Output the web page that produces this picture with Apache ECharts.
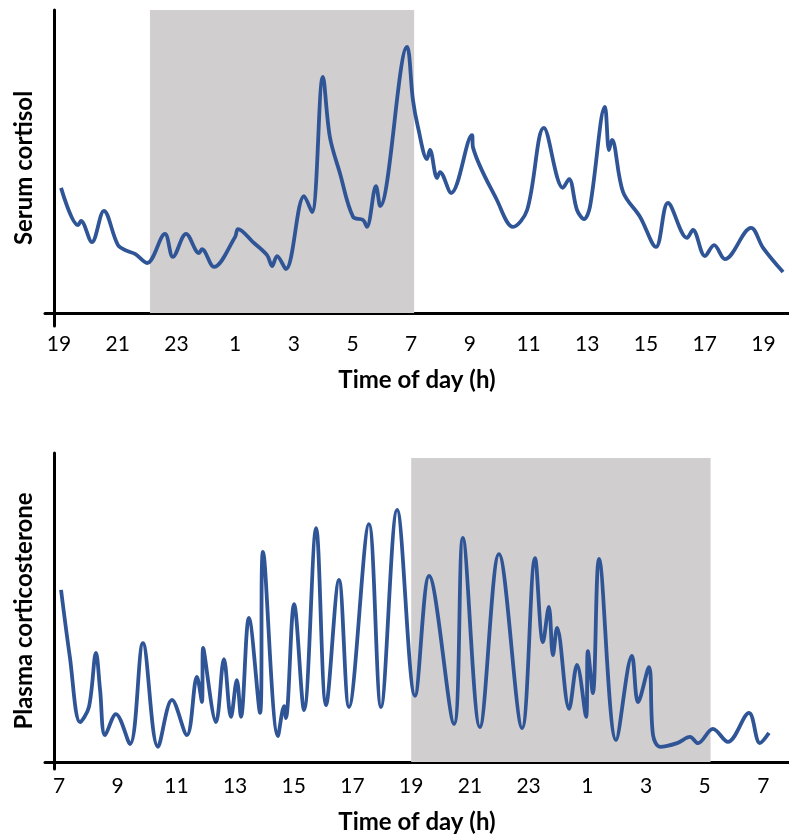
<!DOCTYPE html>
<html>
<head>
<meta charset="utf-8">
<script src="https://cdn.jsdelivr.net/npm/echarts@6/dist/echarts.min.js"></script>
<style>
    html, body { margin: 0; padding: 0; background: #fff; }
    #grafico { width: 789px; height: 836px; }
</style>
</head>
<body>
<div id="grafico"></div>
<script>

// ====================== DADOS ======================
// horas contínuas (19 = 19h do 1º dia, 31 = 7h do dia seguinte ...)

const cortisolHoras = [19.07, 19.65, 19.75, 20.12, 20.53, 21.01, 21.32, 21.59, 22.00, 22.61,
    22.88, 23.33, 23.77, 23.87, 24.28, 25.00, 25.10, 25.61, 26.09, 26.26,
    26.43, 26.73, 27.35, 27.62, 27.99, 28.23, 28.57, 29.02, 29.36, 29.49,
    29.80, 29.94, 30.86, 31.06, 31.23, 31.54, 31.64, 31.88, 31.98, 32.36,
    33.07, 33.11, 33.92, 34.47, 34.95, 35.52, 36.17, 36.38, 36.65, 36.89,
    37.09, 37.60, 37.74, 37.84, 38.22, 38.80, 39.34, 39.75, 40.40, 40.60,
    41.01, 41.32, 41.69, 42.58, 42.99, 43.67];
const cortisolValores = [41.3, 29.0, 30.4, 23.4, 33.7, 22.4, 20.5, 19.5, 16.5, 26.1,
    18.5, 26.1, 19.8, 21.1, 15.2, 25.1, 27.7, 23.4, 19.1, 15.5,
    18.8, 14.5, 38.6, 33.3, 77.9, 58.1, 46.2, 31.7, 30.7, 28.4,
    41.9, 35.3, 87.8, 70.3, 61.4, 50.8, 53.8, 44.6, 46.5, 39.6,
    58.7, 54.5, 37.3, 28.4, 34.0, 61.1, 41.3, 44.2, 34.0, 31.0,
    35.0, 68.0, 53.8, 57.1, 39.9, 31.7, 21.8, 36.3, 24.8, 27.4,
    18.8, 22.4, 17.8, 28.1, 21.5, 13.5];

const corticoHoras = [7.07, 7.37, 7.72, 8.02, 8.26, 8.40, 8.57, 8.94, 9.42, 9.86,
    10.37, 10.85, 11.36, 11.70, 11.87, 11.91, 12.35, 12.62, 12.86, 13.06,
    13.20, 13.47, 13.85, 13.95, 14.46, 14.67, 14.73, 15.01, 15.35, 15.76,
    16.10, 16.54, 16.88, 17.56, 17.97, 18.52, 19.13, 19.61, 20.46, 20.76,
    21.34, 21.99, 22.78, 23.22, 23.49, 23.69, 23.83, 23.97, 24.38, 24.65,
    24.96, 25.02, 25.19, 25.40, 25.98, 26.52, 26.73, 27.10, 27.24, 27.48,
    28.06, 28.50, 28.77, 29.28, 29.79, 30.51, 30.88, 31.19];
const corticoValores = [55.7, 34.0, 12.9, 17.8, 35.3, 23.3, 8.7, 15.5, 5.8, 38.5,
    4.9, 20.1, 8.7, 27.5, 19.4, 36.9, 12.9, 33.3, 14.6, 26.5,
    14.6, 46.6, 15.9, 68.0, 8.4, 18.1, 14.2, 51.1, 16.8, 75.7,
    18.4, 58.9, 17.8, 77.0, 17.8, 81.6, 21.4, 60.2, 12.3, 72.5,
    11.3, 67.3, 11.0, 66.0, 38.8, 50.2, 34.6, 43.4, 17.2, 31.4,
    14.6, 35.9, 22.3, 65.7, 7.1, 34.3, 19.4, 30.7, 8.7, 4.9,
    6.1, 8.1, 6.1, 10.7, 6.5, 15.9, 6.1, 9.4];

const ticksCortisol = [19, 21, 23, 25, 27, 29, 31, 33, 35, 37, 39, 41, 43];
const ticksCortico = [7, 9, 11, 13, 15, 17, 19, 21, 23, 25, 27, 29, 31];

// período escuro (início, fim) em horas contínuas
const escuroCortisol = [22.1, 31.1];
const escuroCortico = [19.0, 29.2];

// ====================== ESTILO ======================

const FONTE = 'Lato';
const AZUL = '#2F5597';
const CINZA = '#D0CECE';

const grafico = echarts.init(document.getElementById('grafico'));

// os rótulos ficam presos à base do grid (e não à linha em y=0), por isso margens pequenas
function eixoX(grid, min, max, ticks, margem, gapNome) {
    return {
        type: 'value',
        gridIndex: grid,
        min: min,
        max: max,
        axisLine: { onZero: true, lineStyle: { color: '#000', width: 3 } },
        axisTick: { show: false },
        splitLine: { show: false },
        axisLabel: {
            customValues: ticks,
            formatter: v => String(v % 24),
            color: '#000',
            fontFamily: FONTE,
            fontSize: 21,
            margin: margem
        },
        name: 'Time of day (h)',
        nameLocation: 'middle',
        nameGap: gapNome,
        nameTextStyle: { color: '#000', fontFamily: FONTE, fontWeight: 'bold', fontSize: 24 }
    };
}

function eixoY(grid, min, max, nome) {
    return {
        type: 'value',
        gridIndex: grid,
        min: min,
        max: max,
        offset: -9,
        axisLine: { show: true, onZero: false, lineStyle: { color: '#000', width: 3 } },
        axisTick: { show: false },
        axisLabel: { show: false },
        splitLine: { show: false },
        name: nome,
        nameLocation: 'middle',
        nameGap: 18,
        nameTextStyle: { color: '#000', fontFamily: FONTE, fontWeight: 'bold', fontSize: 24 }
    };
}

function serie(idx, horas, valores, escuro, topoEscuro) {
    return {
        type: 'line',
        xAxisIndex: idx,
        yAxisIndex: idx,
        data: horas.map((h, i) => [h, valores[i]]),
        smooth: 0.35,
        symbol: 'none',
        lineStyle: { color: AZUL, width: 3.8 },
        markArea: {
            silent: true,
            itemStyle: { color: CINZA },
            data: [[{ xAxis: escuro[0], yAxis: 0 }, { xAxis: escuro[1], yAxis: topoEscuro }]]
        },
        z: 3
    };
}

grafico.setOption({
    animation: false,
    grid: [
        { left: 45, top: 10, width: 744, height: 316 },
        { left: 45, top: 453, width: 744, height: 316 }
    ],
    xAxis: [
        eixoX(0, 18.523, 43.873, ticksCortisol, 8, 42),
        eixoX(1, 6.523, 31.873, ticksCortico, 7, 41)
    ],
    yAxis: [
        eixoY(0, -4.29, 100, 'Serum cortisol'),
        eixoY(1, -2.27, 100, 'Plasma corticosterone')
    ],
    series: [
        serie(0, cortisolHoras, cortisolValores, escuroCortisol, 100),
        serie(1, corticoHoras, corticoValores, escuroCortico, 98.4)
    ]
});

</script>
</body>
</html>
